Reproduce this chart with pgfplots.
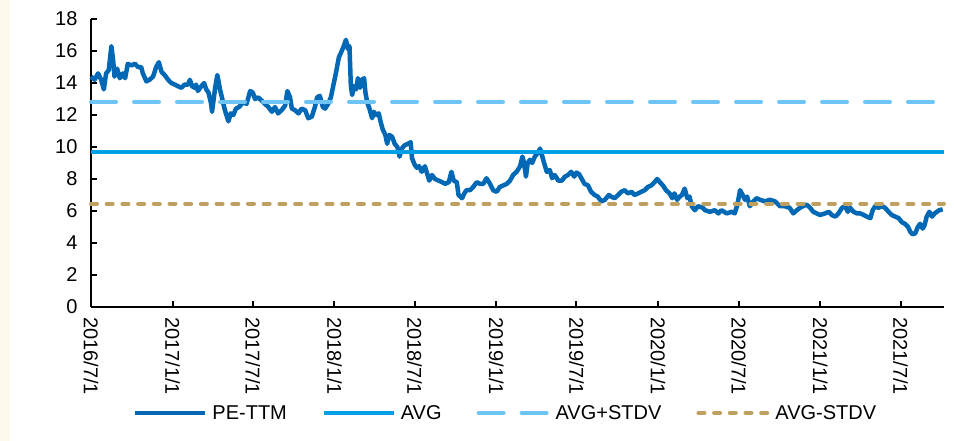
\documentclass[border=0pt]{standalone}
\usepackage{pgfplots}
\pgfplotsset{compat=1.18}
\usepackage{fontspec}
\setmainfont{Liberation Sans}
\definecolor{pe}{RGB}{0,104,180}
\definecolor{avg}{RGB}{0,160,233}
\definecolor{avgp}{RGB}{110,196,245}
\definecolor{avgm}{RGB}{192,160,96}
\definecolor{strip}{RGB}{253,249,237}
\begin{document}
\begin{tikzpicture}
\useasboundingbox (0,0) rectangle (954pt,-441pt);
\fill[strip] (0,0) rectangle (10pt,-441pt);
\begin{axis}[
  at={(91pt,-307pt)}, anchor=south west,
  scale only axis, width=853pt, height=288pt,
  xmin=0, xmax=1924, ymin=0, ymax=18,
  axis x line=bottom, axis y line=left,
  axis line style={-, line width=2pt, black},
  ytick={0,2,...,18},
  xtick={0,184,365,549,730,914,1095,1279,1461,1645,1826},
  xticklabels={2016/7/1,2017/1/1,2017/7/1,2018/1/1,2018/7/1,2019/1/1,2019/7/1,2020/1/1,2020/7/1,2021/1/1,2021/7/1},
  tick align=inside, major tick length=6pt,
  tick style={line width=2pt, black},
  /pgf/number format/assume math mode=true,
  ticklabel style={font=\fontsize{20}{24}\selectfont},
  yticklabel style={xshift=-10pt},
  xticklabel style={rotate=-90, anchor=west, inner xsep=10pt, inner ysep=0pt},
  legend style={at={(0.486,-0.368)}, anchor=center, draw=none, fill=none,
    legend columns=4, font=\fontsize{20}{24}\selectfont,
    /tikz/every even column/.append style={column sep=33pt}},
  legend image code/.code={\draw[#1] (0pt,0pt) -- (70pt,0pt); \path (73pt,0pt);},
  clip=false,
]
\addplot[pe, line width=4.5pt, line join=round] coordinates {
(0,14.4)(8,14.2)(16,14.6)(23,14.2)(29,13.6)(34,14.6)(40,14.8)(46,16.3)(50,15.4)(53,14.4)
(59,14.9)(65,14.3)(72,14.6)(77,14.3)(83,15.2)(91,15.1)(99,15.2)(106,15.0)(113,15.0)(117,14.6)
(125,14.1)(132,14.2)(140,14.4)(147,15.0)(153,15.3)(159,14.7)(166,14.5)(174,14.2)(181,14.0)(189,13.9)
(196,13.8)(204,13.7)(211,13.9)(219,13.9)(223,14.2)(228,13.8)(234,13.7)(237,13.9)(241,13.5)(249,13.8)
(255,14.0)(260,13.6)(265,13.4)(271,12.7)(273,12.2)(280,13.7)(285,14.5)(291,13.6)(297,12.9)(302,12.3)
(310,11.6)(315,12.1)(321,12.0)(327,12.4)(334,12.5)(343,12.8)(351,12.7)(359,13.5)(365,13.4)(370,13.0)
(377,13.1)(385,12.9)(392,12.7)(400,12.5)(408,12.2)(415,12.5)(422,12.1)(430,12.3)(438,12.6)(443,13.5)
(449,13.1)(453,12.4)(460,12.3)(468,12.1)(475,12.4)(483,12.3)(490,11.8)(498,11.9)(505,12.5)(510,13.1)
(516,13.2)(523,12.5)(528,12.4)(535,12.7)(541,13.1)(547,13.9)(553,14.7)(559,15.6)(564,15.9)(570,16.3)
(575,16.7)(580,16.1)(583,16.3)(586,13.9)(589,13.25)(593,13.8)(598,13.6)(602,14.3)(607,13.7)(611,14.2)
(616,14.3)(619,13.4)(623,12.8)(628,12.4)(634,11.8)(638,12.2)(643,12.0)(649,12.1)(653,11.6)(658,11.1)
(664,10.75)(668,10.2)(673,10.75)(679,10.65)(685,10.2)(691,10.0)(696,9.4)(701,9.9)(707,10.1)(715,10.2)
(721,10.3)(724,9.3)(730,8.9)(735,8.7)(740,8.8)(746,8.45)(753,8.8)(758,8.35)(763,7.9)(769,8.25)
(776,8.0)(784,7.9)(792,7.8)(799,7.7)(807,7.8)(813,8.45)(818,7.9)(825,7.8)(829,7.0)(837,6.8)
(842,7.1)(847,7.3)(855,7.3)(862,7.5)(870,7.8)(877,7.7)(885,7.7)(892,8.05)(900,7.7)(907,7.3)
(915,7.2)(922,7.5)(930,7.6)(938,7.7)(945,7.9)(952,8.25)(960,8.45)(968,8.8)(973,9.4)(977,9.0)
(981,8.15)(985,9.0)(990,9.2)(995,9.0)(1001,9.4)(1007,9.6)(1013,9.9)(1018,9.4)(1022,9.0)(1028,8.45)
(1035,8.55)(1040,8.05)(1046,8.25)(1054,7.9)(1062,7.9)(1069,8.15)(1076,8.25)(1083,8.45)(1090,8.15)(1095,8.4)
(1101,8.3)(1106,8.05)(1113,7.7)(1121,7.6)(1128,7.2)(1136,7.0)(1143,6.9)(1151,6.6)(1159,6.7)(1168,7.0)
(1173,6.9)(1181,6.8)(1189,7.0)(1196,7.2)(1204,7.3)(1211,7.1)(1219,7.2)(1226,7.0)(1234,7.1)(1241,7.2)
(1249,7.3)(1256,7.5)(1264,7.6)(1271,7.8)(1277,8.0)(1283,7.8)(1290,7.6)(1297,7.3)(1305,7.1)(1311,6.8)
(1316,7.1)(1322,6.7)(1328,6.9)(1333,7.0)(1339,7.4)(1345,6.8)(1350,6.9)(1355,6.3)(1362,6.05)(1369,6.3)
(1380,6.2)(1385,6.05)(1396,5.95)(1407,6.05)(1415,5.85)(1422,6.05)(1434,5.85)(1445,5.95)(1452,5.85)(1458,6.4)
(1464,7.3)(1470,7.0)(1475,6.7)(1480,6.9)(1486,6.3)(1494,6.6)(1501,6.8)(1509,6.7)(1520,6.6)(1531,6.7)
(1543,6.6)(1554,6.3)(1565,6.3)(1576,6.2)(1584,5.85)(1592,6.05)(1599,6.2)(1606,6.3)(1614,6.4)(1622,6.2)
(1629,5.95)(1637,5.85)(1644,5.75)(1656,5.85)(1664,5.95)(1671,5.75)(1679,5.65)(1686,5.85)(1694,6.2)(1701,6.3)
(1707,5.95)(1712,6.2)(1720,5.95)(1728,5.85)(1735,5.85)(1743,5.75)(1750,5.65)(1758,5.55)(1763,6.05)(1769,6.3)
(1776,6.2)(1784,6.3)(1791,6.2)(1799,5.95)(1806,5.75)(1814,5.65)(1822,5.55)(1829,5.3)(1836,5.2)(1843,5.0)
(1848,4.7)(1853,4.55)(1859,4.6)(1865,5.0)(1870,5.2)(1876,4.9)(1880,5.1)(1885,5.65)(1891,5.95)(1897,5.65)
(1903,5.85)(1908,5.95)(1913,6.05)(1921,6.1)
};
\addlegendentry{PE-TTM}
\addplot[avg, line width=4pt] coordinates {(0,9.71)(1924,9.71)};
\addlegendentry{AVG}
\addplot[avgp, line width=4pt, line cap=round, dash pattern=on 25pt off 18pt] coordinates {(0,12.83)(1924,12.83)};
\addlegendentry{AVG+STDV}
\addplot[avgm, line width=4pt, line cap=round, dash pattern=on 6pt off 9.7pt] coordinates {(0,6.46)(1924,6.46)};
\addlegendentry{AVG-STDV}
\end{axis}
\end{tikzpicture}
\end{document}
